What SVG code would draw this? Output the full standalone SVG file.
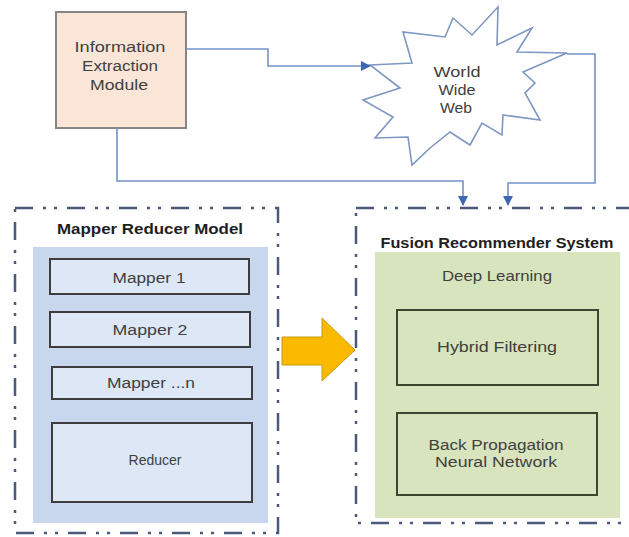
<svg xmlns="http://www.w3.org/2000/svg" width="629" height="537" viewBox="0 0 629 537">
<defs>
<marker id="ah" viewBox="0 0 10 10" refX="9" refY="5" markerWidth="10" markerHeight="10" markerUnits="userSpaceOnUse" orient="auto">
<path d="M0,0 L10,5 L0,10 z" fill="#3f66b0"/>
</marker>
</defs>
<style>
.t{font-family:"Liberation Sans",Arial,sans-serif;font-size:14px;fill:#404040;text-anchor:middle;dominant-baseline:central}
.b{font-weight:bold;fill:#1e1e1e;font-size:14px}
.box{stroke:#3d3d3d;stroke-width:2}
.cont{fill:#ffffff;stroke:#4a5a78;stroke-width:2.5;stroke-dasharray:18 10 3 8 3 10}
.con{fill:none;stroke:#7392c6;stroke-width:1.6}
</style>
<rect width="629" height="537" fill="#ffffff"/>

<g id="info">
<rect x="56" y="12" width="130" height="116" fill="#fbe5d6" stroke="#868686" stroke-width="2"/>
<text class="t" x="120" y="47" textLength="91" lengthAdjust="spacingAndGlyphs">Information</text>
<text class="t" x="120" y="66" textLength="76" lengthAdjust="spacingAndGlyphs">Extraction</text>
<text class="t" x="119" y="85" textLength="58" lengthAdjust="spacingAndGlyphs">Module</text>
</g>

<g id="www">
<path d="M370,65 L412,63 L403,32 L445,37 L453,18 L472,35 L498,7 L497,45 L532,28 L517,52 L567,53 L523,72 L535,83 L525,93 L540,120 L503,115 L502,135 L482,123 L470,145 L450,132 L430,148 L412,165 L408,137 L375,138 L393,117 L363,100 L400,88 Z" fill="#ffffff" stroke="#7d97c2" stroke-width="1.6" stroke-linejoin="miter"/>
<text class="t" x="457" y="72" textLength="47" lengthAdjust="spacingAndGlyphs">World</text>
<text class="t" x="457" y="90" textLength="37" lengthAdjust="spacingAndGlyphs">Wide</text>
<text class="t" x="456" y="108" textLength="32" lengthAdjust="spacingAndGlyphs">Web</text>
</g>

<g id="mapper-reducer">
<rect class="cont" x="15" y="208" width="263" height="325"/>
<text class="t b" x="150" y="229" textLength="186" lengthAdjust="spacingAndGlyphs">Mapper Reducer Model</text>
<rect x="33" y="247" width="235" height="276" fill="#c8d7ee"/>
<g id="mapper1">
<rect class="box" x="50" y="259" width="199" height="35" fill="#dde7f5"/>
<text class="t" x="149" y="278" textLength="73" lengthAdjust="spacingAndGlyphs">Mapper 1</text>
</g>
<g id="mapper2">
<rect class="box" x="50" y="312" width="200" height="35" fill="#dde7f5"/>
<text class="t" x="150" y="330" textLength="75" lengthAdjust="spacingAndGlyphs">Mapper 2</text>
</g>
<g id="mappern">
<rect class="box" x="52" y="367" width="200" height="32" fill="#dde7f5"/>
<text class="t" x="151" y="383" textLength="88" lengthAdjust="spacingAndGlyphs">Mapper ...n</text>
</g>
<g id="reducer">
<rect class="box" x="52" y="423" width="200" height="79" fill="#dde7f5"/>
<text class="t" x="155" y="460">Reducer</text>
</g>
</g>

<g id="fusion">
<rect class="cont" x="356" y="208" width="275" height="315"/>
<text class="t b" x="497" y="243" textLength="233" lengthAdjust="spacingAndGlyphs">Fusion Recommender System</text>
<rect x="375" y="252" width="245" height="266" fill="#d7e4bd"/>
<text class="t" x="497" y="276" textLength="110" lengthAdjust="spacingAndGlyphs">Deep Learning</text>
<g id="hybrid">
<rect x="397" y="310" width="201" height="75" fill="#d7e4bd" stroke="#3c4530" stroke-width="2"/>
<text class="t" x="497" y="347" textLength="120" lengthAdjust="spacingAndGlyphs">Hybrid Filtering</text>
</g>
<g id="bpnn">
<rect x="397" y="413" width="200" height="82" fill="#d7e4bd" stroke="#3c4530" stroke-width="2"/>
<text class="t" x="496" y="445" textLength="135" lengthAdjust="spacingAndGlyphs">Back Propagation</text>
<text class="t" x="496" y="462" textLength="122" lengthAdjust="spacingAndGlyphs">Neural Network</text>
</g>
</g>

<g id="connectors">
<path class="con" d="M186,49 H268 V66 H370" marker-end="url(#ah)"/>
<path class="con" d="M117,128 V181 H463 V205" marker-end="url(#ah)"/>
<path class="con" d="M567,54 H595 V183 H508 V205" marker-end="url(#ah)"/>
<path d="M282,337 H322 V318 L355,350 L322,381 V365 H282 Z" fill="#fbb900" stroke="#c99a10" stroke-width="1"/>
</g>
</svg>
